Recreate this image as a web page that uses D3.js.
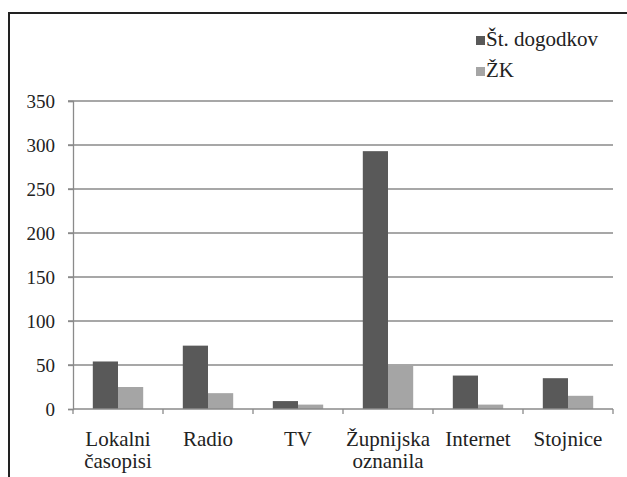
<!DOCTYPE html>
<html>
<head>
<meta charset="utf-8">
<script src="https://cdn.jsdelivr.net/npm/d3@7"></script>
<style>
  body { margin: 0; background: #fff; }
</style>
</head>
<body>
<div id="chart"></div>
<script>
// data
var categories = ["Lokalni časopisi", "Radio", "TV", "Župnijska oznanila", "Internet", "Stojnice"];
var seriesNames = ["Št. dogodkov", "ŽK"];
var dogodki = [54, 72, 9, 293, 38, 35];
var zk = [25, 18, 5, 49, 5, 15];
var yTicks = [0, 50, 100, 150, 200, 250, 300, 350];
var colours = ["#595959", "#a5a5a5"];

var FONT = "Times New Roman";
var W = 627, H = 477;
var margin = {top: 101, right: 14, bottom: 68, left: 73};
var width = W - margin.left - margin.right,
    height = H - margin.top - margin.bottom;

var svg = d3.select("#chart")
    .append("svg")
    .attr("width", W)
    .attr("height", H)
    .attr("font-family", FONT);

// outer frame (cut at right/bottom like the scan)
svg.append("path")
    .attr("d", "M9,477 V13 H627")
    .attr("fill", "none")
    .attr("stroke", "#222")
    .attr("stroke-width", 2);

var g = svg.append("g")
    .attr("transform", `translate(${margin.left}, ${margin.top})`);

var x = d3.scaleBand()
    .domain(categories)
    .range([0, width])
    .paddingInner(0.44)
    .paddingOuter(0.22);

var x0 = d3.scaleBand()
    .domain(categories)
    .range([0, width]);

var xs = d3.scaleBand()
    .domain(seriesNames)
    .range([0, x.bandwidth()]);

var y = d3.scaleLinear()
    .domain([0, 350])
    .range([height, 0]);

// gridlines
g.append("g")
    .selectAll("line")
    .data(yTicks.filter(d => d > 0))
    .enter()
    .append("line")
    .attr("x1", -5)
    .attr("x2", width)
    .attr("y1", d => y(d))
    .attr("y2", d => y(d))
    .attr("stroke", "#8a8a8a")
    .attr("stroke-width", 1.3);

// y axis
var yAxis = g.append("g")
    .call(d3.axisLeft(y).tickValues(yTicks).tickSize(5).tickPadding(13))
    .attr("font-family", FONT)
    .attr("font-size", 19);
yAxis.select(".domain").attr("stroke", "#8a8a8a").attr("stroke-width", 1.3);
yAxis.selectAll(".tick line").attr("stroke", "#8a8a8a").attr("stroke-width", 1.3);
yAxis.selectAll("text")
    .attr("fill", "#222")
    .attr("font-family", FONT)
    .style("font-family", FONT)
    .style("font-size", "19px");

// bars
var rows = categories.map((c, i) => ({cat: c, vals: [dogodki[i], zk[i]]}));
var groups = g.selectAll(".grp")
    .data(rows)
    .enter()
    .append("g")
    .attr("class", "grp")
    .attr("transform", d => `translate(${x(d.cat)},0)`);

groups.selectAll("rect")
    .data(d => d.vals.map((v, j) => ({s: seriesNames[j], v: v, j: j})))
    .enter()
    .append("rect")
    .attr("x", d => xs(d.s))
    .attr("y", d => y(d.v))
    .attr("width", xs.bandwidth())
    .attr("height", d => height - y(d.v))
    .attr("fill", d => colours[d.j]);

// x axis
var xAxisG = g.append("g").attr("transform", `translate(0,${height})`);
xAxisG.append("line")
    .attr("x1", 0).attr("x2", width)
    .attr("stroke", "#8a8a8a").attr("stroke-width", 1.3);
xAxisG.selectAll(".xt")
    .data(categories.concat(["end"]))
    .enter()
    .append("line")
    .attr("x1", (d, i) => i * x0.bandwidth())
    .attr("x2", (d, i) => i * x0.bandwidth())
    .attr("y1", 0).attr("y2", 5)
    .attr("stroke", "#8a8a8a").attr("stroke-width", 1.3);

xAxisG.selectAll(".xl")
    .data(categories)
    .enter()
    .append("text")
    .attr("text-anchor", "middle")
    .attr("fill", "#222")
    .attr("font-family", FONT)
    .style("font-family", FONT)
    .style("font-size", "21px")
    .each(function(d) {
        var words = d.split(" ");
        var t = d3.select(this);
        words.forEach((w, k) => {
            t.append("tspan")
                .attr("x", x0(d) + x0.bandwidth() / 2)
                .attr("y", 37 + k * 22)
                .text(w);
        });
    });

// legend
var legend = svg.append("g")
    .attr("transform", "translate(476,36)");
seriesNames.forEach((s, i) => {
    legend.append("rect")
        .attr("x", 0).attr("y", i * 31)
        .attr("width", 9).attr("height", 9)
        .attr("fill", colours[i]);
    legend.append("text")
        .attr("x", 10).attr("y", i * 31 + 10)
        .attr("fill", "#222")
        .attr("font-family", FONT)
        .style("font-family", FONT)
        .style("font-size", "21px")
        .text(s);
});
</script>
</body>
</html>
